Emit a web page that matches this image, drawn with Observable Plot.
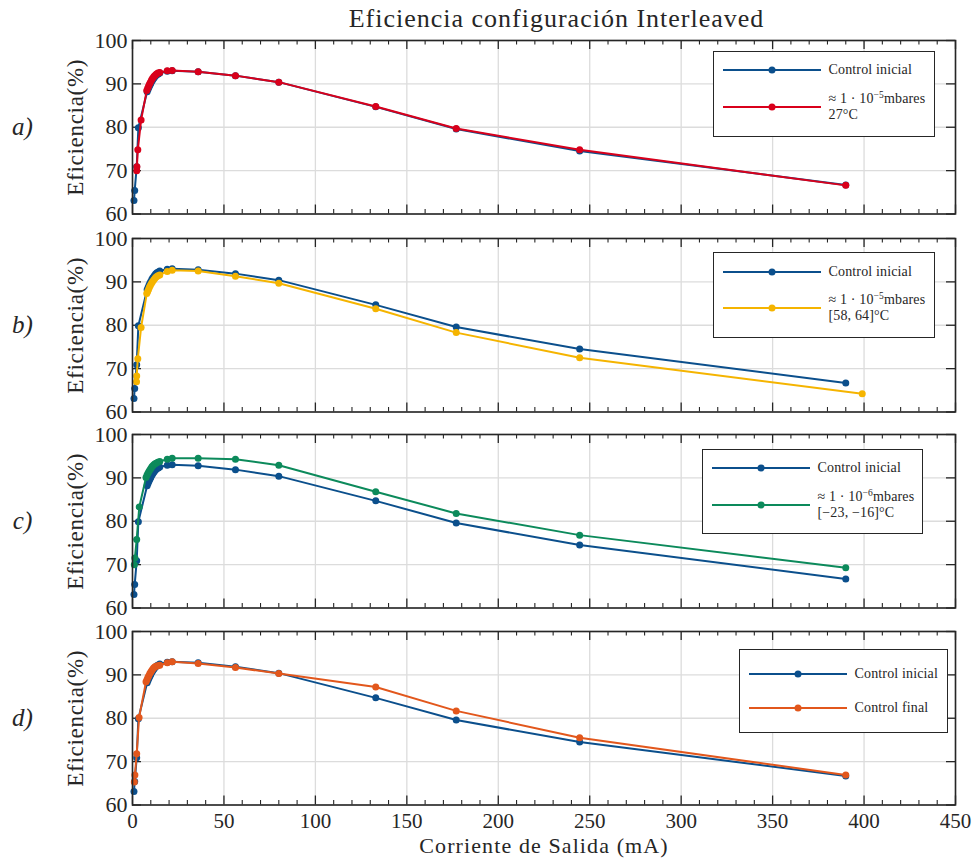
<!DOCTYPE html>
<html><head><meta charset="utf-8">
<script src="https://cdn.jsdelivr.net/npm/d3@7"></script>
<script src="https://cdn.jsdelivr.net/npm/@observablehq/plot@0.6"></script>
<style>
body{margin:0;background:#fff;}
#fig{position:relative;width:975px;height:862px;font-family:"Liberation Serif",serif;color:#262626;overflow:hidden;}
.panel{position:absolute;left:0;}
.title{position:absolute;left:145px;width:823px;top:3px;text-align:center;font-size:26px;line-height:32px;letter-spacing:1px;}
.legend{position:absolute;border:1.5px solid #262626;background:#fff;box-sizing:border-box;}
.legend svg{position:absolute;overflow:visible;}
.lt{position:absolute;font-size:14px;line-height:15px;white-space:nowrap;letter-spacing:0.15px;}
.lt sup{font-size:9.5px;vertical-align:5px;line-height:0;}
</style></head>
<body><div id="fig"></div>
<script>
// ---- data ----
const xTicks = [0, 50, 100, 150, 200, 250, 300, 350, 400, 450];
const yTicks = [60, 70, 80, 90, 100];
const panelLabels = ["a)", "b)", "c)", "d)"];

const ctrlX = [0.8, 1.2, 2.3, 3.2, 8.0, 8.5, 9.0, 9.5, 10.0, 10.6, 11.2, 11.9, 12.6, 13.3, 14.1, 14.9, 19.0, 21.7, 35.9, 56.3, 80.0, 133.0, 177.0, 244.5, 390.0];
const ctrlY = [63.1, 65.4, 70.9, 79.9, 88.2, 88.7, 89.2, 89.7, 90.1, 90.6, 91.0, 91.4, 91.8, 92.1, 92.3, 92.5, 92.9, 93.0, 92.8, 91.9, 90.4, 84.7, 79.6, 74.5, 66.7];

const vac27X = [2.3, 2.4, 2.9, 4.7, 7.8, 8.3, 8.8, 9.3, 9.8, 10.4, 11.0, 11.7, 12.4, 13.1, 13.9, 14.9, 19.0, 21.7, 35.9, 56.3, 80.0, 133.0, 177.0, 244.5, 390.0];
const vac27Y = [70.0, 70.9, 74.8, 81.7, 88.5, 89.0, 89.5, 90.0, 90.4, 90.9, 91.3, 91.7, 92.0, 92.3, 92.5, 92.6, 93.0, 93.1, 92.8, 91.9, 90.4, 84.8, 79.7, 74.8, 66.6];

const hotX = [2.2, 2.3, 2.9, 4.7, 7.8, 8.3, 8.8, 9.3, 9.8, 10.4, 11.0, 11.7, 12.4, 13.1, 13.9, 14.9, 19.0, 21.7, 35.9, 56.3, 80.0, 133.0, 177.0, 244.5, 399.0];
const hotY = [67.0, 68.3, 72.3, 79.5, 87.3, 87.8, 88.3, 88.8, 89.2, 89.7, 90.1, 90.5, 90.9, 91.2, 91.4, 91.6, 92.4, 92.7, 92.5, 91.3, 89.7, 83.8, 78.3, 72.5, 64.2];

const coldX = [1.0, 1.3, 2.3, 3.7, 7.4, 7.9, 8.4, 8.9, 9.5, 10.1, 10.7, 11.4, 12.1, 12.9, 13.8, 14.9, 19.0, 21.7, 35.9, 56.3, 80.0, 133.0, 177.0, 244.5, 390.0];
const coldY = [70.0, 71.5, 75.8, 83.3, 90.1, 90.6, 91.0, 91.4, 91.8, 92.2, 92.6, 92.9, 93.2, 93.4, 93.6, 93.8, 94.3, 94.5, 94.5, 94.3, 92.9, 86.8, 81.8, 76.8, 69.3];

const finalX = [1.0, 1.3, 2.3, 3.6, 7.4, 7.9, 8.4, 8.9, 9.5, 10.1, 10.7, 11.4, 12.1, 12.9, 13.8, 14.9, 19.0, 21.7, 35.9, 56.3, 80.0, 133.0, 177.0, 244.5, 390.0];
const finalY = [65.3, 66.9, 71.8, 80.2, 88.4, 88.9, 89.4, 89.8, 90.3, 90.7, 91.1, 91.5, 91.8, 92.0, 92.1, 92.2, 92.8, 93.0, 92.6, 91.7, 90.3, 87.2, 81.7, 75.5, 66.9];

const ctrlName = "Control inicial";
const seriesNames = [
  ["≈ 1 · 10<sup>−5</sup>mbares", "27°C"],
  ["≈ 1 · 10<sup>−5</sup>mbares", "[58, 64]°C"],
  ["≈ 1 · 10<sup>−6</sup>mbares", "[−23, −16]°C"],
  ["Control final"]
];

// ---- styles / layout ----
const FONT = "Liberation Serif";
const BLUE = "#0b4f8c";
const colors = ["#d9001b", "#f5b400", "#0c8a5b", "#e2571c"];
const otherX = [vac27X, hotX, coldX, finalX];
const otherY = [vac27Y, hotY, coldY, finalY];
const zip = (xs, ys) => xs.map((x, i) => ({x, y: ys[i]}));
const ctrl = zip(ctrlX, ctrlY);

const panelTop = [40, 237.5, 434, 631];
const innerH = 173.5;
const legendBoxes = [
  {left: 713, top: 51, w: 222, h: 86, r1: 19, r2: 56, l0: 10, l1: 108, tx: 116},
  {left: 713, top: 252, w: 222, h: 86, r1: 20, r2: 56, l0: 10, l1: 108, tx: 116},
  {left: 702, top: 449, w: 221, h: 85, r1: 19, r2: 56, l0: 10, l1: 108, tx: 116},
  {left: 739, top: 649, w: 209, h: 84, r1: 25, r2: 59, l0: 10, l1: 108, tx: 116}
];

const fig = document.getElementById("fig");
const title = document.createElement("div");
title.className = "title";
title.textContent = "Eficiencia configuración Interleaved";
fig.appendChild(title);

const minorX = d3.range(0, 451, 10).filter(v => v % 50 !== 0);
const INK = "#262626";

panelTop.forEach((top, i) => {
  const last = i === 3;
  const mt = 12, mb = last ? 58 : 12;
  const height = mt + innerH + mb;
  const other = zip(otherX[i], otherY[i]);
  const marks = [
    Plot.gridX(xTicks, {stroke: "#dcdcdc", strokeOpacity: 1, strokeWidth: 1.3}),
    Plot.gridY(yTicks, {stroke: "#dcdcdc", strokeOpacity: 1, strokeWidth: 1.3}),
    // inward ticks on all four sides
    Plot.tickX(xTicks, {x: d => d, insetTop: innerH - 9, stroke: INK, strokeWidth: 1.3}),
    Plot.tickX(xTicks, {x: d => d, insetBottom: innerH - 9, stroke: INK, strokeWidth: 1.3}),
    Plot.tickX(minorX, {x: d => d, insetTop: innerH - 4.5, stroke: INK, strokeWidth: 1.1}),
    Plot.tickX(minorX, {x: d => d, insetBottom: innerH - 4.5, stroke: INK, strokeWidth: 1.1}),
    Plot.tickY(yTicks, {y: d => d, insetRight: 823 - 9, stroke: INK, strokeWidth: 1.3}),
    Plot.tickY(yTicks, {y: d => d, insetLeft: 823 - 9, stroke: INK, strokeWidth: 1.3}),
    Plot.line(ctrl, {x: "x", y: "y", stroke: BLUE, strokeWidth: 2}),
    Plot.dot(ctrl, {x: "x", y: "y", fill: BLUE, r: 3.5}),
    Plot.line(other, {x: "x", y: "y", stroke: colors[i], strokeWidth: 2}),
    Plot.dot(other, {x: "x", y: "y", fill: colors[i], r: 3.5}),
    Plot.frame({stroke: INK, strokeWidth: 1.6}),
    Plot.axisY({ticks: yTicks, tickSize: 0, tickPadding: 5, fontSize: 22, fontFamily: FONT, fill: INK, label: null}),
    Plot.text(["Eficiencia(%)"], {frameAnchor: "left", textAnchor: "middle", rotate: -90, dx: -57, fontSize: 23, fontFamily: FONT, fill: INK}),
    Plot.text([panelLabels[i]], {frameAnchor: "left", textAnchor: "middle", dx: -110, fontSize: 25, fontFamily: FONT, fontStyle: "italic", fill: INK})
  ];
  if (last) {
    marks.push(Plot.axisX({ticks: xTicks, tickSize: 0, tickPadding: 8, fontSize: 21, fontFamily: FONT, fill: INK, label: null}));
    marks.push(Plot.text(["Corriente de Salida (mA)"], {frameAnchor: "bottom", textAnchor: "middle", dy: 48, fontSize: 22, fontFamily: FONT, fill: INK}));
  }
  const svg = Plot.plot({
    width: 975, height,
    marginLeft: 132, marginRight: 20, marginTop: mt, marginBottom: mb,
    style: "font-family: 'Liberation Serif', serif; color: #262626; background: transparent; overflow: visible;",
    x: {domain: [0, 450], axis: null},
    y: {domain: [60, 100], axis: null},
    marks
  });
  svg.classList.add("panel");
  svg.style.top = (top - mt) + "px";
  svg.style.position = "absolute";
  svg.querySelectorAll("text").forEach(t => {
    if (t.textContent.includes("Eficiencia")) t.setAttribute("letter-spacing", "0.7");
    if (t.textContent.includes("Corriente")) t.setAttribute("letter-spacing", "1.1");
  });
  fig.appendChild(svg);

  // legend
  const L = legendBoxes[i];
  const box = document.createElement("div");
  box.className = "legend";
  Object.assign(box.style, {left: L.left + "px", top: L.top + "px", width: L.w + "px", height: L.h + "px"});
  const rows = [{c: BLUE, y: L.r1, t: [ctrlName]}, {c: colors[i], y: L.r2, t: seriesNames[i]}];
  rows.forEach(r => {
    const ns = "http://www.w3.org/2000/svg";
    const s = document.createElementNS(ns, "svg");
    s.setAttribute("width", L.l1 - L.l0);
    s.setAttribute("height", 10);
    s.style.left = (L.l0 - 1.5) + "px";
    s.style.top = (r.y - 5 - 1.5) + "px";
    const ln = document.createElementNS(ns, "line");
    ln.setAttribute("x1", 0); ln.setAttribute("x2", L.l1 - L.l0);
    ln.setAttribute("y1", 5); ln.setAttribute("y2", 5);
    ln.setAttribute("stroke", r.c); ln.setAttribute("stroke-width", 2);
    const dt = document.createElementNS(ns, "circle");
    dt.setAttribute("cx", (L.l1 - L.l0) / 2); dt.setAttribute("cy", 5); dt.setAttribute("r", 3.5);
    dt.setAttribute("fill", r.c);
    s.appendChild(ln); s.appendChild(dt);
    box.appendChild(s);
    const n = r.t.length;
    r.t.forEach((txt, k) => {
      const d = document.createElement("div");
      d.className = "lt";
      d.innerHTML = txt;
      const cy = r.y + (k - (n - 1) / 2) * 15.5;
      d.style.left = (L.tx - 1.5) + "px";
      d.style.top = (cy - 7.5 - 1.5) + "px";
      box.appendChild(d);
    });
  });
  fig.appendChild(box);
});
</script></body></html>
